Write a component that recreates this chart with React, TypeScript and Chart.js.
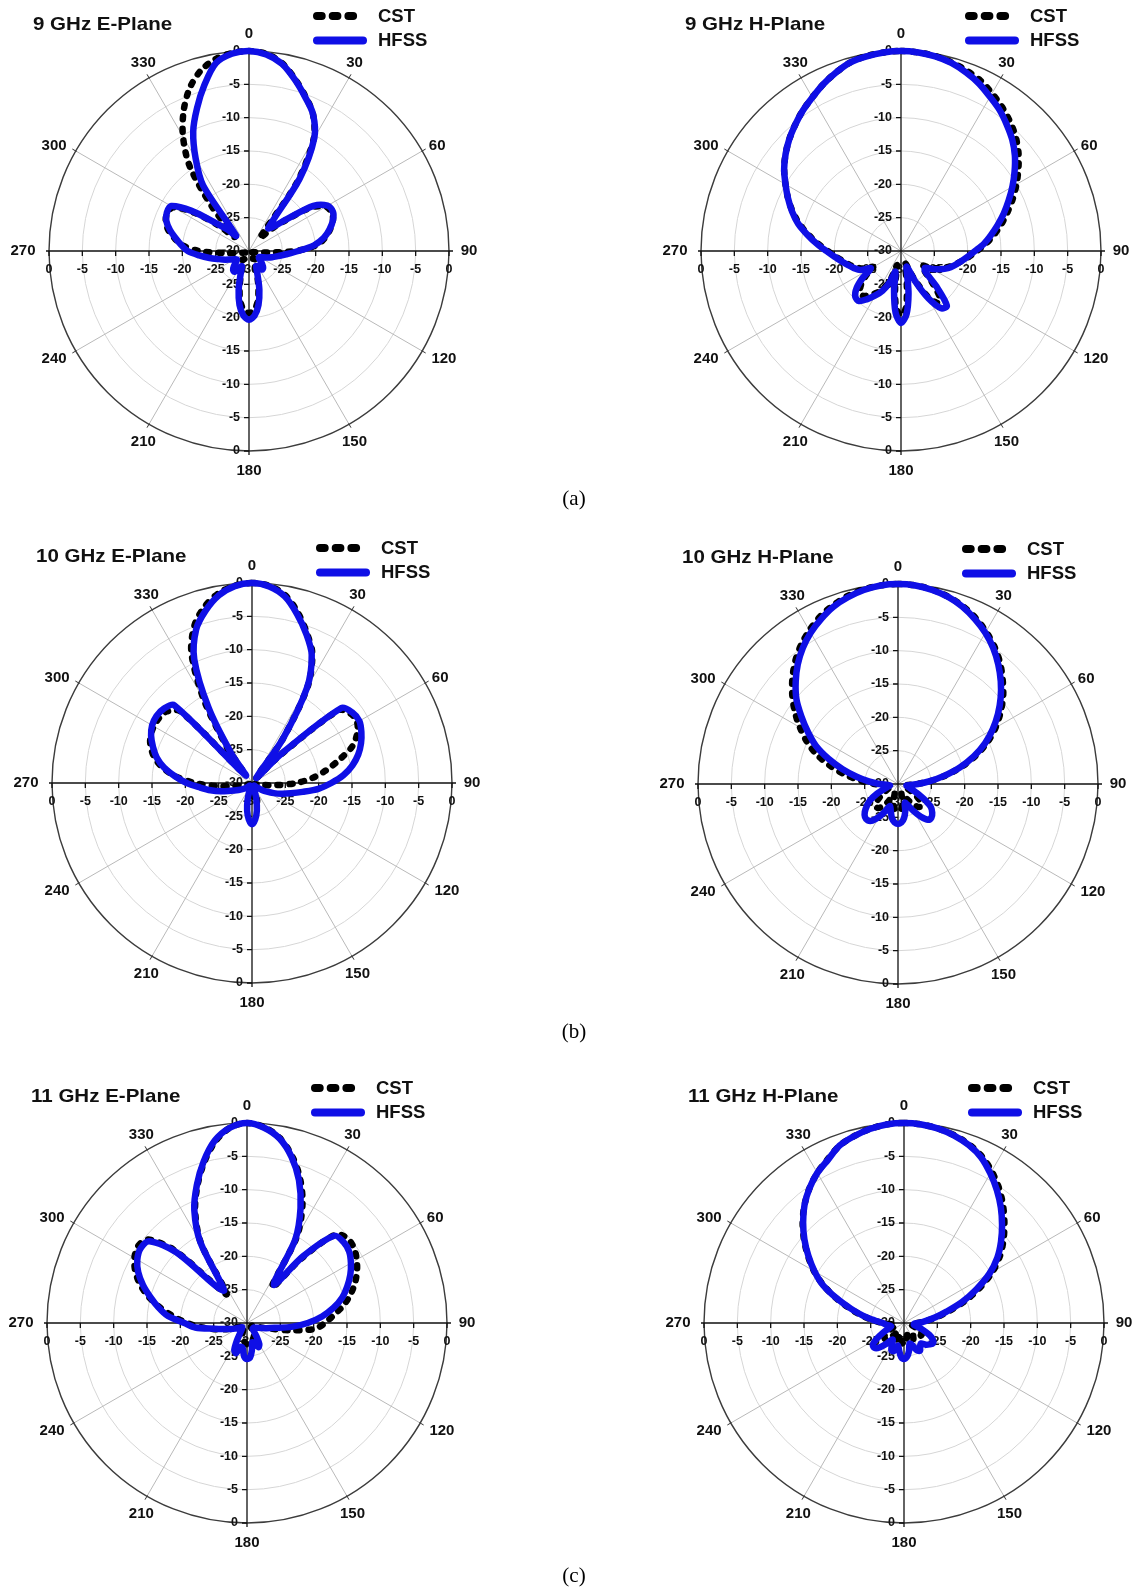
import React, { useEffect, useRef } from 'react';
import { Chart, registerables } from 'chart.js';

Chart.register(...registerables);

// Angular sample positions (degrees, clockwise from the top)
const ANGLES = [
  0, 5, 10, 15, 20, 25, 30, 35, 40, 45, 50, 55,
  60, 65, 70, 75, 80, 85, 90, 95, 100, 105, 110, 115,
  120, 125, 130, 135, 140, 145, 150, 155, 160, 165, 170, 175,
  180, 185, 190, 195, 200, 205, 210, 215, 220, 225, 230, 235,
  240, 245, 250, 255, 260, 265, 270, 275, 280, 285, 290, 295,
  300, 305, 310, 315, 320, 325, 330, 335, 340, 345, 350, 355,
];

// Labelled angle spokes and the dB rings
const ANGLE_TICKS = [0, 30, 60, 90, 120, 150, 180, 210, 240, 270, 300, 330];
const RING_TICKS = [-30, -25, -20, -15, -10, -5, 0];
const SERIES_NAMES = ['CST', 'HFSS'];

// 9 GHz E-Plane (dB)
const E9_HFSS = [
  0, -0.4, -1.5, -3.4, -5.4, -7.3, -10.4, -16.8, -25.5, -24.8, -22.5, -18.2,
  -16.4, -16.1, -16.6, -17.5, -18.6, -20.2, -22.6, -24.4, -25.6, -26.4, -27.2, -27.8,
  -28.2, -28.2, -27.8, -27.2, -26.7, -26.6, -27.3, -27.5, -26.3, -24, -21.8, -20.3,
  -19.7, -20.3, -21.8, -24, -26.3, -27.5, -27, -26.2, -26.3, -26.8, -27.5, -27.8,
  -27.5, -27, -26.2, -25.3, -24, -22.5, -20.8, -19.8, -18.8, -17.7, -16.8, -16.4,
  -16.5, -19.5, -23.5, -25.5, -27, -18, -14, -10.2, -7.2, -4.2, -1.4, -0.3,
];
const E9_CST = [
  0, -0.3, -1.4, -3.3, -5.3, -7.3, -10.6, -17.5, -27.5, -25.5, -22.8, -18.6,
  -16.7, -16.3, -16.6, -17.4, -18.4, -19.8, -23, -27.5, -28.8, -29.3, -29.5, -29.6,
  -29.6, -29.6, -29.4, -29, -28.6, -28.5, -28.8, -28.5, -26.8, -24.6, -22.4, -21.1,
  -20.7, -21.1, -22.4, -24.6, -26.8, -28.3, -28.6, -28.3, -28.6, -29.2, -29.4, -29.5,
  -29.5, -29.5, -29.3, -29, -28.2, -26.5, -22.5, -19.9, -18.6, -17.4, -16.7, -16.5,
  -16.9, -20, -24, -27, -21.5, -14.5, -10.2, -6.8, -4.0, -2.0, -0.8, -0.2,
];

// 9 GHz H-Plane (dB)
const H9_HFSS = [
  0, -0.1, -0.35, -0.8, -1.5, -2.3, -3.3, -4.2, -5.3, -6.4, -7.7, -9.2,
  -10.7, -12.2, -13.6, -15, -16.3, -17.5, -18.9, -20, -20.9, -21.7, -22.5, -23.5,
  -24.6, -25.6, -25.3, -22.5, -19.3, -19.5, -21.8, -25, -27.5, -26.5, -23.5, -20.5,
  -19.2, -20.7, -24, -26.8, -25, -23.4, -22.3, -21.2, -20.2, -20.3, -21.3, -23,
  -24.8, -23.3, -22.5, -21.8, -21, -20, -18.8, -17.3, -15.7, -14, -12.6, -11.3,
  -10, -8.6, -7.4, -6.3, -5.3, -4.3, -3.4, -2.4, -1.5, -0.7, -0.35, -0.1,
];
const H9_CST = [
  0, -0.1, -0.3, -0.7, -1.2, -1.8, -2.7, -3.6, -4.6, -5.7, -7, -8.5,
  -10, -11.5, -13, -14.4, -15.8, -17.2, -18.6, -19.8, -20.9, -21.8, -22.8, -23.9,
  -25, -26.2, -25.5, -23.5, -21, -20.5, -22.3, -25.5, -28, -27.5, -25, -21.5,
  -20.3, -21.5, -25, -27.8, -25.5, -23.8, -22.8, -22, -21.2, -21.3, -22.2, -23.6,
  -25.2, -23.8, -22.8, -22, -21.2, -20.2, -19, -17.5, -15.9, -14.2, -12.7, -11.3,
  -10, -8.6, -7.4, -6.3, -5.3, -4.3, -3.4, -2.4, -1.5, -0.7, -0.3, -0.1,
];

// 10 GHz E-Plane (dB)
const E10_HFSS = [
  0, -0.4, -1.6, -3.8, -6.2, -8.8, -13.5, -22, -29, -24, -12.5, -11.6,
  -11.4, -11.9, -12.6, -13.5, -14.7, -16.2, -18.1, -20, -22.3, -24, -25.3, -26.4,
  -27.4, -28.2, -28.9, -29.3, -29.5, -29.5, -29.5, -29.3, -29, -27.5, -25.8, -24.5,
  -23.8, -24.5, -25.8, -27.5, -29, -29.3, -29.5, -29.5, -29.5, -29.3, -29, -28.5,
  -28, -27.4, -26.6, -25.2, -23.7, -22.2, -20.2, -18.4, -16.6, -15.2, -14.2, -13.3,
  -12.7, -12.5, -12.7, -13.5, -28.5, -24.5, -17, -9.5, -5.5, -3.2, -1.4, -0.35,
];
const E10_CST = [
  0, -0.3, -1.4, -3.5, -6, -8.6, -13.3, -22, -29, -24.5, -13, -11.9,
  -11.8, -12.6, -14, -16.4, -18.6, -20.8, -23.3, -26.3, -28.3, -29.2, -29.5, -29.6,
  -29.6, -29.6, -29.6, -29.6, -29.6, -29.6, -29.6, -29.6, -29.2, -28.5, -28, -27.6,
  -27.5, -27.6, -28, -28.5, -29.2, -29.6, -29.6, -29.6, -29.6, -29.6, -29.6, -29.6,
  -29.6, -29.6, -29.6, -28.8, -27.3, -24.7, -21.4, -18.5, -16.3, -14.8, -13.8, -13.2,
  -13, -13, -13.3, -14.8, -28, -23.5, -15.5, -8.5, -4.8, -2.6, -1.1, -0.3,
];

// 10 GHz H-Plane (dB)
const H10_HFSS = [
  0, -0.1, -0.45, -0.95, -1.7, -2.7, -3.8, -5.1, -6.6, -8.2, -9.9, -11.7,
  -13.6, -15.6, -17.9, -20.4, -23, -25.2, -27, -28.2, -28.7, -28.5, -28, -27,
  -25.5, -24, -23.3, -22.9, -23, -24, -25.3, -26.5, -27, -25.8, -24.8, -24.2,
  -24, -24.2, -24.8, -25.8, -26.5, -25.5, -24.3, -23.3, -22.9, -23, -23.5, -24.3,
  -25.2, -26.5, -27.8, -28.5, -28.8, -28.5, -27.2, -25.6, -23.7, -21.4, -18.9, -16.4,
  -14.4, -12.3, -10.1, -8.3, -6.6, -5.1, -3.8, -2.7, -1.7, -1.0, -0.45, -0.1,
];
const H10_CST = [
  0, -0.1, -0.4, -0.9, -1.6, -2.5, -3.6, -4.8, -6.2, -7.8, -9.4, -11.2,
  -13.1, -15.2, -17.6, -20.2, -22.8, -25.2, -27.2, -28.5, -29, -29, -29, -28.5,
  -27.5, -26.3, -25.5, -25.2, -25.6, -26.5, -27.5, -28.5, -28.5, -27.5, -26.5, -26,
  -26, -26, -26.5, -27.5, -28.5, -28, -26.8, -25.8, -25.3, -25.3, -25.8, -26.8,
  -27.8, -28.5, -29, -29, -29, -28, -26.5, -24.5, -22, -19.5, -17, -14.9,
  -13, -11.1, -9.3, -7.6, -6, -4.6, -3.4, -2.3, -1.5, -0.8, -0.35, -0.1,
];

// 11 GHz E-Plane (dB)
const E11_HFSS = [
  0, -0.6, -1.9, -4.2, -7.2, -11, -15.5, -23, -17, -11.5, -11.1, -11.3,
  -12, -12.9, -14, -15.2, -16.8, -18.7, -20.9, -23.3, -25.8, -27, -27.8, -28.3,
  -28.6, -28.8, -28.8, -28.8, -28.5, -27.5, -26.3, -26, -26.8, -27, -25.8, -24.8,
  -24.6, -25, -26.2, -26.3, -25.2, -25.5, -27, -28.3, -28.8, -29, -29, -28.8,
  -28.5, -28, -27.4, -26.5, -25, -22.2, -20.6, -18.1, -16.5, -15, -13.4, -12,
  -11, -10.5, -10.9, -15, -22.8, -24, -16, -11.3, -8, -4.9, -2.2, -0.6,
];
const E11_CST = [
  0, -0.5, -1.8, -4, -6.8, -10.3, -15, -23.5, -17.5, -11.2, -10.3, -10.4,
  -11, -11.8, -12.8, -14, -15.4, -17, -18.3, -19.8, -23.8, -27, -28.3, -28.9,
  -29.2, -29.2, -29.2, -29.2, -29, -28.5, -28, -27.6, -27.3, -27.2, -27, -26.8,
  -26.8, -27, -27.3, -27.6, -28, -28.5, -29, -29.3, -29.3, -29.3, -29.3, -29.3,
  -29, -28.5, -27.5, -26.3, -24.8, -23, -21, -19, -16.8, -14.7, -12.9, -11.5,
  -10.5, -10, -10.5, -14.5, -22.5, -24.7, -16.2, -11.6, -8.2, -5.1, -2.4, -0.6,
];

// 11 GHz H-Plane (dB)
const H11_HFSS = [
  0, -0.1, -0.4, -0.9, -1.6, -2.6, -4.1, -5.7, -7.4, -9.2, -11, -12.9,
  -15.2, -18, -20.7, -23.4, -25.3, -26.8, -27.8, -28.5, -28.5, -28, -27, -25.8,
  -25, -24.7, -25, -25.4, -26, -25.8, -25.2, -25.5, -26.5, -26.8, -25.7, -24.9,
  -24.6, -24.9, -25.8, -26.5, -25.5, -25.5, -26.5, -27, -26, -24.8, -24.2, -24.3,
  -25.3, -26.5, -27.5, -28, -27.8, -27.3, -26.8, -25.6, -23.8, -21.8, -19.3, -16.6,
  -14.5, -12.5, -10.5, -8.6, -6.8, -5.3, -4.0, -3.0, -1.7, -1.0, -0.45, -0.1,
];
const H11_CST = [
  0, -0.1, -0.4, -0.85, -1.5, -2.4, -3.7, -5.2, -6.9, -8.7, -10.5, -12.4,
  -14.7, -17.4, -20.2, -22.9, -25, -26.8, -28, -28.8, -29, -28.8, -28.3, -27.6,
  -27, -26.8, -27, -27.4, -27.8, -27.6, -27.2, -27.4, -28, -28.2, -27.6, -27,
  -26.8, -27, -27.6, -28.2, -27.6, -27.3, -27.8, -28.2, -27.6, -26.8, -26.3, -26.4,
  -27, -27.8, -28.5, -28.8, -28.5, -28, -26.8, -25.4, -23.6, -21.6, -19.2, -16.7,
  -14.4, -12.4, -10.4, -8.5, -6.8, -5.3, -4.0, -2.9, -1.7, -1.0, -0.45, -0.1,
];

const TITLES = [
  '9 GHz E-Plane', '9 GHz H-Plane',
  '10 GHz E-Plane', '10 GHz H-Plane',
  '11 GHz E-Plane', '11 GHz H-Plane',
];
const CST_SERIES = [E9_CST, H9_CST, E10_CST, H10_CST, E11_CST, H11_CST];
const HFSS_SERIES = [E9_HFSS, H9_HFSS, E10_HFSS, H10_HFSS, E11_HFSS, H11_HFSS];
const CAPTIONS = ['(a)', '(b)', '(c)'];

// ---- layout and styling ----
const CANVAS_W = 569;
const CANVAS_H = 520;
const RADIUS = 200;
// page position of each canvas and of the polar centre on the page
const PANEL_BOXES = [
  { left: 0, top: 0, cx: 249, cy: 251 },
  { left: 569, top: 0, cx: 901, cy: 251 },
  { left: 0, top: 515, cx: 252, cy: 783 },
  { left: 569, top: 515, cx: 898, cy: 784 },
  { left: 0, top: 1060, cx: 247, cy: 1323 },
  { left: 569, top: 1060, cx: 904, cy: 1323 },
];
const CAPTION_POS = [
  { x: 574, y: 498 },
  { x: 574, y: 1031 },
  { x: 574, y: 1575 },
];
// offsets of the angle labels from the spoke ends
const ANGLE_LABEL_OFFSET: Record<number, [number, number]> = {
  0: [0, -17], 30: [5.5, -15], 60: [15, -5], 90: [20, 0],
  120: [21.7, 8], 150: [5.5, 18], 180: [0, 20], 210: [-5.7, 18],
  240: [-21.7, 8], 270: [-26, 0], 300: [-21.7, -5], 330: [-5.7, -15],
};

const BLUE = '#0f0fe6';
const INK = '#111111';
const SANS = '"Liberation Sans", Arial, Helvetica, sans-serif';
const LINE_W = 6.5;

function drawText(
  ctx: CanvasRenderingContext2D, s: string, x: number, y: number,
  font: string, align: CanvasTextAlign = 'center', sx = 1,
) {
  ctx.save();
  ctx.font = font;
  ctx.textAlign = align;
  ctx.textBaseline = 'middle';
  ctx.fillStyle = INK;
  ctx.translate(x, y);
  ctx.scale(sx, 1);
  ctx.fillText(s, 0, 0);
  ctx.restore();
}

function makeDecor(title: string) {
  return {
    id: 'polarDecor',
    beforeDatasetsDraw(chart: any) {
      const s = chart.scales.r;
      const ctx: CanvasRenderingContext2D = chart.ctx;
      const cx = s.xCenter;
      const cy = s.yCenter;
      const R = s.drawingArea;

      // short marks where the light spokes meet the rim
      ctx.save();
      ctx.strokeStyle = '#333';
      ctx.lineWidth = 1;
      ctx.beginPath();
      ANGLE_TICKS.forEach((a) => {
        if (a % 90 === 0) return;
        const p0 = s.getPointPosition(a / 5, R - 1);
        const p1 = s.getPointPosition(a / 5, R + 4);
        ctx.moveTo(p0.x, p0.y);
        ctx.lineTo(p1.x, p1.y);
      });
      ctx.stroke();

      // main axes with their ticks
      ctx.strokeStyle = INK;
      ctx.lineWidth = 1.3;
      ctx.beginPath();
      ctx.moveTo(cx, cy - R - 3);
      ctx.lineTo(cx, cy + R + 4);
      ctx.moveTo(cx - R - 3, cy);
      ctx.lineTo(cx + R + 4, cy);
      RING_TICKS.forEach((v) => {
        const d = s.getDistanceFromCenterForValue(v);
        if (d <= 0) return;
        ctx.moveTo(cx - 5, cy - d); ctx.lineTo(cx, cy - d);
        ctx.moveTo(cx - 5, cy + d); ctx.lineTo(cx, cy + d);
        ctx.moveTo(cx - d, cy); ctx.lineTo(cx - d, cy + 5);
        ctx.moveTo(cx + d, cy); ctx.lineTo(cx + d, cy + 5);
      });
      ctx.stroke();
      ctx.restore();

      // dB labels along both axes
      const tickFont = `bold 12.5px ${SANS}`;
      RING_TICKS.forEach((v) => {
        const d = s.getDistanceFromCenterForValue(v);
        const t = String(v);
        drawText(ctx, t, cx - 9, cy - d, tickFont, 'right');
        if (d > 0) drawText(ctx, t, cx - 9, cy + d, tickFont, 'right');
        drawText(ctx, t, cx - d, cy + 19, tickFont, 'center');
        if (d > 0) drawText(ctx, t, cx + d, cy + 19, tickFont, 'center');
      });

      // angle labels
      const angFont = `bold 15px ${SANS}`;
      ANGLE_TICKS.forEach((a) => {
        const p = s.getPointPosition(a / 5, R);
        const [dx, dy] = ANGLE_LABEL_OFFSET[a];
        drawText(ctx, String(a), p.x + dx, p.y + dy, angFont, 'center');
      });

      // title
      drawText(ctx, title, cx - 216, cy - 226, `bold 19px ${SANS}`, 'left', 1.08);
    },
    afterDraw(chart: any) {
      const s = chart.scales.r;
      const ctx: CanvasRenderingContext2D = chart.ctx;
      const cx = s.xCenter;
      const cy = s.yCenter;
      const y1 = cy - 235;
      const y2 = cy - 210.5;
      ctx.save();
      ctx.lineCap = 'round';
      ctx.lineWidth = 8;
      ctx.strokeStyle = '#000';
      ctx.beginPath();
      for (let k = 0; k < 3; k++) {
        const xs = cx + 68 + k * 15.7;
        ctx.moveTo(xs, y1);
        ctx.lineTo(xs + 4.7, y1);
      }
      ctx.stroke();
      ctx.strokeStyle = BLUE;
      ctx.beginPath();
      ctx.moveTo(cx + 68, y2);
      ctx.lineTo(cx + 114, y2);
      ctx.stroke();
      ctx.restore();
      const legFont = `bold 18.5px ${SANS}`;
      drawText(ctx, SERIES_NAMES[0], cx + 129, y1 + 0.5, legFont, 'left');
      drawText(ctx, SERIES_NAMES[1], cx + 129, y2 + 0.5, legFont, 'left');
    },
  };
}

function PolarPanel({ index }: { index: number }) {
  const ref = useRef<HTMLCanvasElement>(null);
  const box = PANEL_BOXES[index];
  useEffect(() => {
    const canvas = ref.current;
    if (!canvas) return;
    const lx = box.cx - box.left;
    const ly = box.cy - box.top;
    const chart = new Chart(canvas, {
      type: 'radar',
      data: {
        labels: ANGLES.map(String),
        datasets: [
          {
            label: SERIES_NAMES[1],
            data: HFSS_SERIES[index],
            borderColor: BLUE,
            borderWidth: LINE_W,
            borderCapStyle: 'round',
            borderJoinStyle: 'round',
            fill: false,
            pointRadius: 0,
            tension: 0.3,
            order: 0,
            clip: false,
          },
          {
            label: SERIES_NAMES[0],
            data: CST_SERIES[index],
            borderColor: '#000000',
            borderWidth: LINE_W,
            borderDash: [3, 9],
            borderCapStyle: 'round',
            borderJoinStyle: 'round',
            fill: false,
            pointRadius: 0,
            tension: 0.3,
            order: 1,
            clip: false,
          },
        ],
      },
      options: {
        responsive: false,
        animation: false,
        events: [],
        layout: {
          padding: {
            left: lx - RADIUS,
            right: CANVAS_W - lx - RADIUS,
            top: ly - RADIUS,
            bottom: CANVAS_H - ly - RADIUS,
          },
        },
        plugins: {
          legend: { display: false },
          tooltip: { enabled: false },
          title: { display: false },
        },
        scales: {
          r: {
            min: -30,
            max: 0,
            beginAtZero: false,
            startAngle: 0,
            ticks: { display: false, stepSize: 5 },
            pointLabels: { display: false },
            grid: {
              circular: true,
              color: (c: any) => (c.tick && c.tick.value === 0 ? '#3c3c3c' : '#d6d6d6'),
              lineWidth: (c: any) => (c.tick && c.tick.value === 0 ? 1.4 : 1),
            },
            angleLines: {
              display: true,
              color: '#b9b9b9',
              lineWidth: (c: any) => (c.index % 6 === 0 && c.index % 18 !== 0 ? 1 : 0),
            },
          },
        },
      } as any,
      plugins: [makeDecor(TITLES[index])],
    });
    return () => chart.destroy();
  }, [index]);
  return (
    <canvas
      ref={ref}
      width={CANVAS_W}
      height={CANVAS_H}
      style={{ position: 'absolute', left: box.left, top: box.top }}
    />
  );
}

export default function App() {
  return (
    <div style={{ position: 'absolute', left: 0, top: 0, width: 1138, height: 1587, background: '#fff', overflow: 'hidden' }}>
      {TITLES.map((t, i) => (
        <PolarPanel key={t} index={i} />
      ))}
      {CAPTIONS.map((c, i) => (
        <div
          key={c}
          style={{
            position: 'absolute',
            left: CAPTION_POS[i].x - 30,
            width: 60,
            top: CAPTION_POS[i].y - 13,
            height: 26,
            lineHeight: '26px',
            textAlign: 'center',
            fontFamily: '"Liberation Serif", "Times New Roman", serif',
            fontSize: 21,
            color: '#000',
            zIndex: 2,
          }}
        >
          {c}
        </div>
      ))}
    </div>
  );
}
